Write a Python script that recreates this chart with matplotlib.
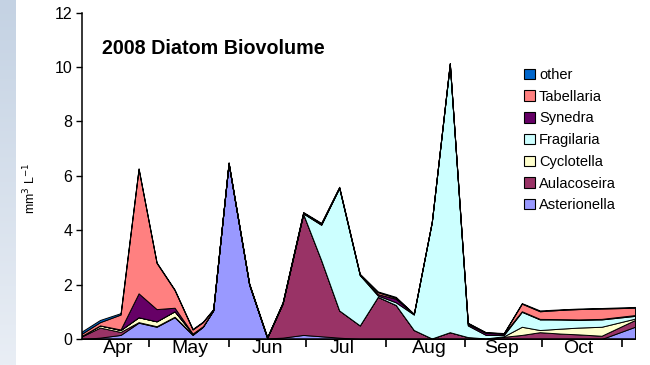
"""2008 diatom biovolume, stacked by genus (weekly samples)."""

import matplotlib

matplotlib.use("Agg")
import matplotlib.dates as mdates
import matplotlib.pyplot as plt
import numpy as np
import pandas as pd
from matplotlib.patches import Rectangle
from matplotlib.ticker import FixedLocator

plt.rcParams["font.family"] = ["Liberation Sans", "DejaVu Sans"]

dates = [
    "2008-04-05", "2008-04-12", "2008-04-20", "2008-04-27", "2008-05-04",
    "2008-05-11", "2008-05-18", "2008-05-22", "2008-05-26", "2008-06-01",
    "2008-06-09", "2008-06-16", "2008-06-22", "2008-06-30", "2008-07-07",
    "2008-07-14", "2008-07-22", "2008-07-29", "2008-08-05", "2008-08-12",
    "2008-08-19", "2008-08-26", "2008-09-02", "2008-09-09", "2008-09-16",
    "2008-09-23", "2008-09-30", "2008-10-08", "2008-10-15", "2008-10-24",
    "2008-11-06",
]

asterionella = [0.0, 0.05, 0.15, 0.6, 0.45, 0.8, 0.15, 0.45, 1.05, 6.45,
                2.0, 0.02, 0.05, 0.15, 0.1, 0.05, 0.0, 0.0, 0.0, 0.0,
                0.0, 0.0, 0.0, 0.0, 0.0, 0.0, 0.0, 0.0, 0.0, 0.0, 0.45]
aulacoseira = [0.1, 0.37, 0.11, 0.02, 0.02, 0.02, 0.02, 0.0, 0.0, 0.0,
               0.0, 0.03, 1.25, 4.45, 2.8, 1.0, 0.5, 1.55, 1.25, 0.33,
               0.02, 0.25, 0.07, 0.02, 0.08, 0.15, 0.25, 0.2, 0.17, 0.12, 0.25]
cyclotella = [0.02, 0.08, 0.07, 0.18, 0.18, 0.2, 0.03, 0.02, 0.01, 0.01,
              0.01, 0.0, 0.0, 0.0, 0.0, 0.0, 0.0, 0.0, 0.0, 0.0,
              0.0, 0.0, 0.0, 0.0, 0.02, 0.3, 0.08, 0.18, 0.25, 0.33, 0.05]
fragilaria = [0.0, 0.0, 0.0, 0.0, 0.0, 0.0, 0.0, 0.0, 0.0, 0.0,
              0.0, 0.0, 0.02, 0.02, 1.3, 4.5, 1.85, 0.05, 0.1, 0.57,
              4.28, 9.85, 0.43, 0.13, 0.05, 0.55, 0.39, 0.34, 0.29, 0.27, 0.1]
synedra = [0.0, 0.0, 0.02, 0.88, 0.45, 0.13, 0.0, 0.0, 0.0, 0.0,
           0.0, 0.0, 0.0, 0.01, 0.02, 0.01, 0.01, 0.05, 0.13, 0.01,
           0.0, 0.02, 0.05, 0.07, 0.05, 0.02, 0.02, 0.01, 0.01, 0.02, 0.03]
tabellaria = [0.08, 0.12, 0.55, 4.57, 1.7, 0.65, 0.15, 0.15, 0.02, 0.02,
              0.02, 0.01, 0.02, 0.02, 0.03, 0.02, 0.02, 0.07, 0.04, 0.01,
              0.01, 0.02, 0.03, 0.02, 0.01, 0.28, 0.28, 0.34, 0.38, 0.38, 0.27]
other = [0.08, 0.08, 0.05, 0.03, 0.02, 0.02, 0.02, 0.02, 0.02, 0.02,
         0.02, 0.01, 0.01, 0.02, 0.02, 0.02, 0.02, 0.03, 0.03, 0.01,
         0.01, 0.01, 0.02, 0.01, 0.01, 0.02, 0.03, 0.02, 0.02, 0.02, 0.03]

names = ["Asterionella", "Aulacoseira", "Cyclotella", "Fragilaria",
         "Synedra", "Tabellaria", "other"]
colors = ["#9999ff", "#993366", "#ffffcc", "#ccffff",
          "#660066", "#ff8080", "#0066cc"]

# month names sit in the middle of the visible part of each month
month_labels = ["Apr", "May", "Jun", "Jul", "Aug", "Sep", "Oct"]
month_label_dates = ["2008-04-19", "2008-05-17", "2008-06-16", "2008-07-15",
                     "2008-08-18", "2008-09-15", "2008-10-15"]


def main() -> int:
    x = pd.to_datetime(dates)
    layers = np.array([asterionella, aulacoseira, cyclotella, fragilaria,
                       synedra, tabellaria, other])

    fig = plt.figure(figsize=(6.5, 3.65), dpi=100)

    # pale blue strip on the left edge of the slide
    strip = fig.add_axes([0, 0, 16 / 650, 1])
    grad = np.linspace(0, 1, 256).reshape(-1, 1)
    strip.imshow(grad, aspect="auto", cmap=matplotlib.colors.LinearSegmentedColormap.from_list(
        "strip", ["#c4d2e3", "#e9eef5"]))
    strip.set_axis_off()

    ax = fig.add_axes([82 / 650, 1 - 339 / 365, (635 - 82) / 650, (339 - 12.7) / 365])
    ax.stackplot(x, layers, colors=colors, edgecolor="black", linewidth=0.7)

    ax.set_ylim(0, 12)
    ax.set_yticks(range(0, 13, 2))
    ax.set_xlim(pd.Timestamp("2008-04-05"), pd.Timestamp("2008-11-06"))

    ax.xaxis.set_major_locator(mdates.MonthLocator(bymonth=range(5, 12)))
    ax.xaxis.set_major_formatter(plt.NullFormatter())
    ax.xaxis.set_minor_locator(FixedLocator(mdates.date2num(pd.to_datetime(month_label_dates))))
    ax.xaxis.set_minor_formatter(plt.FixedFormatter(month_labels))
    ax.tick_params(axis="x", which="major", direction="out", length=6, width=1.2)
    ax.tick_params(axis="x", which="minor", length=0, labelsize=14, pad=1)
    ax.tick_params(axis="y", direction="out", length=4, width=1, labelsize=11.5, pad=3)

    for side in ("top", "right"):
        ax.spines[side].set_visible(False)
    ax.spines["left"].set_linewidth(1.1)
    ax.spines["bottom"].set_linewidth(1.1)

    fig.text(102 / 650, 1 - 48 / 365, "2008 Diatom Biovolume",
             fontsize=14.2, fontweight="bold", va="center", ha="left")
    fig.text(30 / 650, 1 - 188 / 365, "mm$^{3}$ L$^{-1}$", rotation=90,
             fontsize=9, va="center", ha="center")

    handles = [Rectangle((0, 0), 1, 1, facecolor=c, edgecolor="black", linewidth=0.8)
               for c in colors[::-1]]
    fig.legend(handles, names[::-1], loc="upper left",
               bbox_to_anchor=(524 / 650, 1 - 68 / 365), frameon=False,
               fontsize=10.5, handlelength=0.72, handleheight=0.72,
               handletextpad=0.3, labelspacing=0.53, borderpad=0, borderaxespad=0)

    fig.savefig("out.png", dpi=100)
    plt.close(fig)
    return 0


if __name__ == "__main__":
    raise SystemExit(main())
